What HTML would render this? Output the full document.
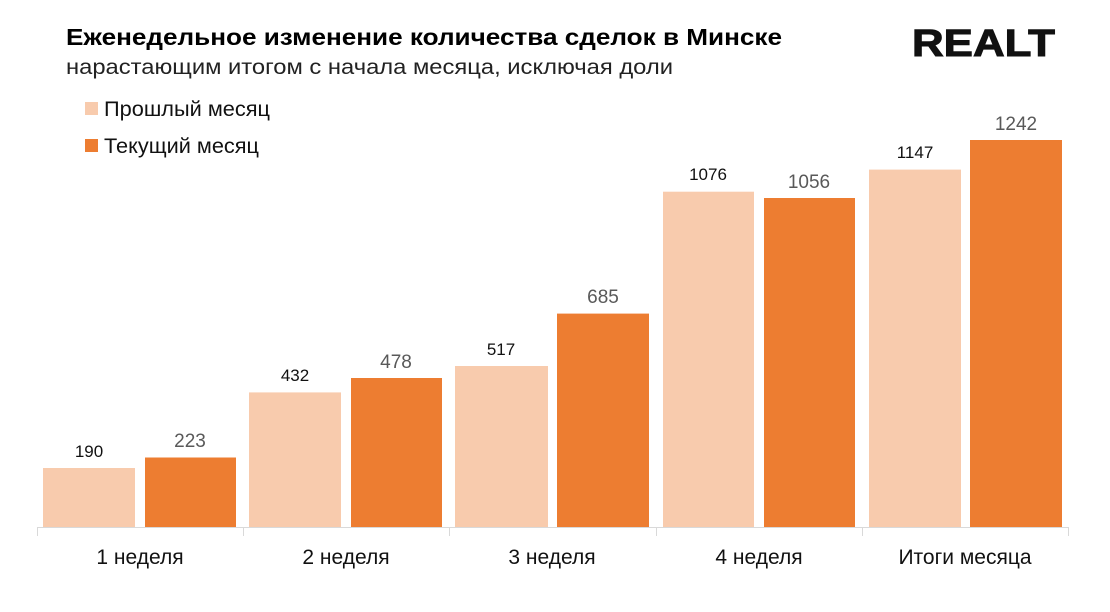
<!DOCTYPE html>
<html><head><meta charset="utf-8"><style>
html,body{margin:0;padding:0;background:#fff;}
svg{display:block;font-family:"Liberation Sans",sans-serif;}
</style></head><body>
<svg width="1110" height="612" viewBox="0 0 1110 612" xmlns="http://www.w3.org/2000/svg">
<text x="66" y="45" font-size="23" font-weight="bold" fill="#000" textLength="716" lengthAdjust="spacingAndGlyphs">Еженедельное изменение количества сделок в Минске</text>
<text x="66" y="74" font-size="21" fill="#222" textLength="607" lengthAdjust="spacingAndGlyphs">нарастающим итогом с начала месяца, исключая доли</text>
<text x="912" y="56" font-size="38" font-weight="bold" fill="#111" stroke="#111" stroke-width="1" textLength="143" lengthAdjust="spacingAndGlyphs">REALT</text>
<rect x="85" y="102" width="13" height="13" fill="#F8CBAD"/>
<text x="104" y="116" font-size="21" fill="#111" textLength="166" lengthAdjust="spacingAndGlyphs">Прошлый месяц</text>
<rect x="85" y="139" width="13" height="13" fill="#ED7D31"/>
<text x="104" y="153" font-size="21" fill="#111" textLength="155" lengthAdjust="spacingAndGlyphs">Текущий месяц</text>
<g fill="#F8CBAD">
<rect x="43" y="468" width="92" height="59"/>
<rect x="249" y="392.4" width="92" height="134.6"/>
<rect x="455" y="366" width="93" height="161"/>
<rect x="663" y="191.7" width="91" height="335.3"/>
<rect x="869" y="169.6" width="92" height="357.4"/>
</g>
<g fill="#ED7D31">
<rect x="145" y="457.5" width="91" height="69.5"/>
<rect x="351" y="378" width="91" height="149"/>
<rect x="557" y="313.6" width="92" height="213.4"/>
<rect x="764" y="198" width="91" height="329"/>
<rect x="970" y="140" width="92" height="387"/>
</g>
<g font-size="17" text-anchor="middle" fill="#111">
<text x="89" y="457">190</text>
<text x="295" y="381">432</text>
<text x="501" y="355">517</text>
<text x="708" y="180">1076</text>
<text x="915" y="158">1147</text>
</g>
<g font-size="19" text-anchor="middle" fill="#595959">
<text x="190" y="447">223</text>
<text x="396" y="368">478</text>
<text x="603" y="303">685</text>
<text x="809" y="188">1056</text>
<text x="1016" y="130">1242</text>
</g>
<g stroke="#d9d9d9" stroke-width="1">
<line x1="37" y1="527.5" x2="1068" y2="527.5"/>
<line x1="37.5" y1="527" x2="37.5" y2="536"/>
<line x1="243.5" y1="527" x2="243.5" y2="536"/>
<line x1="449.5" y1="527" x2="449.5" y2="536"/>
<line x1="656.5" y1="527" x2="656.5" y2="536"/>
<line x1="862.5" y1="527" x2="862.5" y2="536"/>
<line x1="1068.5" y1="527" x2="1068.5" y2="536"/>
</g>
<g font-size="21" text-anchor="middle" fill="#111">
<text x="140" y="564">1 неделя</text>
<text x="346" y="564">2 неделя</text>
<text x="552" y="564">3 неделя</text>
<text x="759" y="564">4 неделя</text>
<text x="965" y="564">Итоги месяца</text>
</g>
</svg>
</body></html>
